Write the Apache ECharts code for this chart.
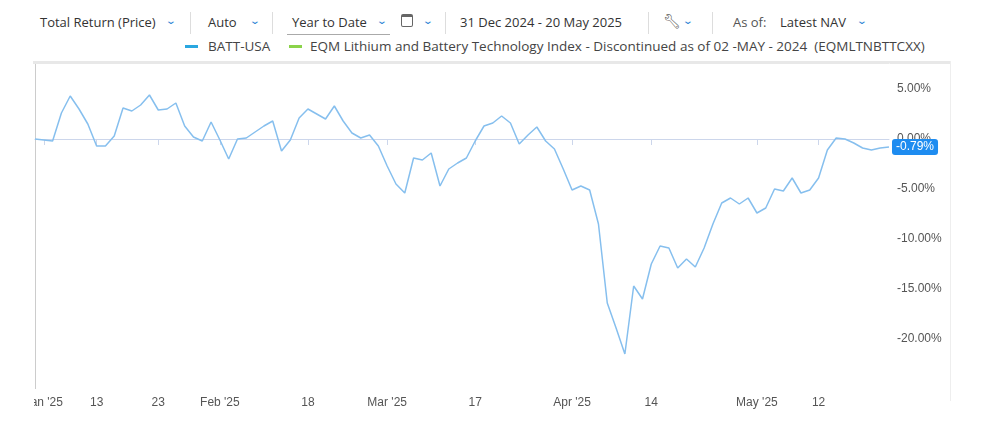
<!DOCTYPE html>
<html><head><meta charset="utf-8">
<script src="https://cdn.jsdelivr.net/npm/echarts@6/dist/echarts.min.js"></script>
<style>
body{margin:0;width:985px;height:422px;background:#fff;font-family:"Open Sans","Noto Sans",sans-serif;overflow:hidden;position:relative}
.t{position:absolute;font-size:13px;color:#333;white-space:nowrap;top:13px}
.c{position:absolute;top:13px;color:#2a7fd4;font-size:10px;transform:scaleX(1.4)}
.s{position:absolute;top:12px;width:1px;height:22px;background:#ddd}
.l{position:absolute;top:37px;font-size:13.5px;color:#444;white-space:nowrap}
.d{position:absolute;top:45px;width:13px;height:3px}
#chart{position:absolute;left:34px;top:0;width:951px;height:422px;overflow:hidden}
</style></head><body>
<div class="t" style="left:40px">Total Return (Price)</div><div class="c" style="left:167px">&#8964;</div>
<div class="s" style="left:190px"></div>
<div class="t" style="left:208px">Auto</div><div class="c" style="left:251px">&#8964;</div>
<div class="s" style="left:272px"></div>
<div class="t" style="left:292px">Year to Date</div><div class="c" style="left:378px">&#8964;</div>
<div style="position:absolute;left:287px;top:34px;width:103px;height:1px;background:#aaa"></div>
<div style="position:absolute;left:401px;top:14px;width:12px;height:13px;border:1px solid #666;border-radius:2px;border-top-width:3px;box-sizing:border-box"></div>
<div class="c" style="left:424px">&#8964;</div>
<div class="s" style="left:445px"></div>
<div class="t" style="left:460px">31 Dec 2024 - 20 May 2025</div>
<div class="s" style="left:648px"></div>
<div class="t" style="left:663px;font-size:14px;top:11px;color:#555">&#128295;&#xFE0E;</div><div class="c" style="left:684px">&#8964;</div>
<div class="s" style="left:712px"></div>
<div class="t" style="left:733px;color:#555">As of:</div>
<div class="t" style="left:780px">Latest NAV</div><div class="c" style="left:858px">&#8964;</div>
<div class="d" style="left:185px;background:#2aa7e0"></div><div class="l" style="left:208px">BATT-USA</div>
<div class="d" style="left:289px;background:#8bd34a"></div><div class="l" style="left:310px">EQM Lithium and Battery Technology Index - Discontinued as of 02 -MAY - 2024&nbsp;&nbsp;(EQMLTNBTTCXX)</div>
<div style="position:absolute;left:33px;top:61px;width:918px;height:3px;background:#e8e8e8"></div>
<div style="position:absolute;left:950px;top:61px;width:1px;height:340px;background:#eee"></div>
<div id="chart"></div>
<script>
const holidays = ['2025-01-01','2025-01-09','2025-01-20','2025-02-17','2025-04-18'];
const values = [0,-0.1,-0.2,2.6,4.3,3.0,1.5,-0.7,-0.7,0.3,3.1,2.8,3.4,4.4,2.9,3.0,3.6,1.3,0.2,-0.2,1.7,-0.1,-2.0,0,0.1,0.7,1.3,1.8,-1.2,-0.1,2.1,3.0,2.5,2.0,3.3,1.8,0.6,0.1,0.4,-0.7,-2.7,-4.5,-5.4,-1.9,-2.1,-1.4,-4.7,-3.0,-2.4,-1.9,-0.2,1.3,1.6,
2.3,1.6,-0.5,0.4,1.2,-0.2,-1.0,-3.0,-5.1,-4.7,-5.1,-8.5,-16.4,-18.9,-21.5,-14.7,-16.0,-12.5,-10.7,-10.9,-12.9,-12.0,-12.8,-10.9,-8.5,-6.4,-5.9,-6.5,-5.9,-7.4,-6.9,-5.0,-5.2,-3.9,-5.4,-5.1,-3.9,-1.1,0.1,0.0,-0.4,-0.9,-1.1,-0.9,-0.79];
const tickLabels = {'2025-01-02':"Jan '25",'2025-01-13':'13','2025-01-23':'23','2025-02-03':"Feb '25",'2025-02-18':'18','2025-03-03':"Mar '25",'2025-03-17':'17','2025-04-01':"Apr '25",'2025-04-14':'14','2025-05-01':"May '25",'2025-05-12':'12'};
const dates = [];
for (let t = Date.UTC(2024,11,31); dates.length < values.length; t += 86400000) {
  const d = new Date(t), s = d.toISOString().slice(0,10), w = d.getUTCDay();
  if (w !== 0 && w !== 6 && holidays.indexOf(s) < 0) dates.push(s);
}
const show = (i, v) => tickLabels[v] !== undefined;
const chart = echarts.init(document.getElementById('chart'));
chart.setOption({
  animation:false,
  grid:{left:1,right:96,top:64,bottom:33,containLabel:false,outerBoundsMode:'none'},
  xAxis:{type:'category',data:dates,boundaryGap:false,
    axisLine:{lineStyle:{color:'#ccd6eb'}},
    axisTick:{interval:show,length:6,lineStyle:{color:'#ccd6eb'}},
    axisLabel:{interval:show,formatter:v=>tickLabels[v]||'',color:'#555',fontSize:12,margin:8}},
  yAxis:{type:'value',position:'right',min:-25,max:7.5,interval:5,
    axisLine:{show:true,lineStyle:{color:'#fff'}},splitLine:{show:false},
    axisLabel:{showMinLabel:false,showMaxLabel:false,formatter:v=>v.toFixed(2)+'%',color:'#555',fontSize:12,margin:8}},
  series:[{name:'BATT-USA',type:'line',data:values,showSymbol:false,smooth:false,
    lineStyle:{color:'#86bfee',width:1.5},itemStyle:{color:'#86bfee'},
    endLabel:{show:true,formatter:p=>p.value.toFixed(2)+'%',backgroundColor:'#1e8cf0',color:'#fff',fontSize:12,padding:[2,4],borderRadius:3,distance:3}},
   {name:'EQM',type:'line',data:[],itemStyle:{color:'#8bd34a'}}],
  graphic:[{type:'line',shape:{x1:1.5,y1:64,x2:1.5,y2:389},style:{stroke:'#ccc',lineWidth:1}}]
});
</script></body></html>
